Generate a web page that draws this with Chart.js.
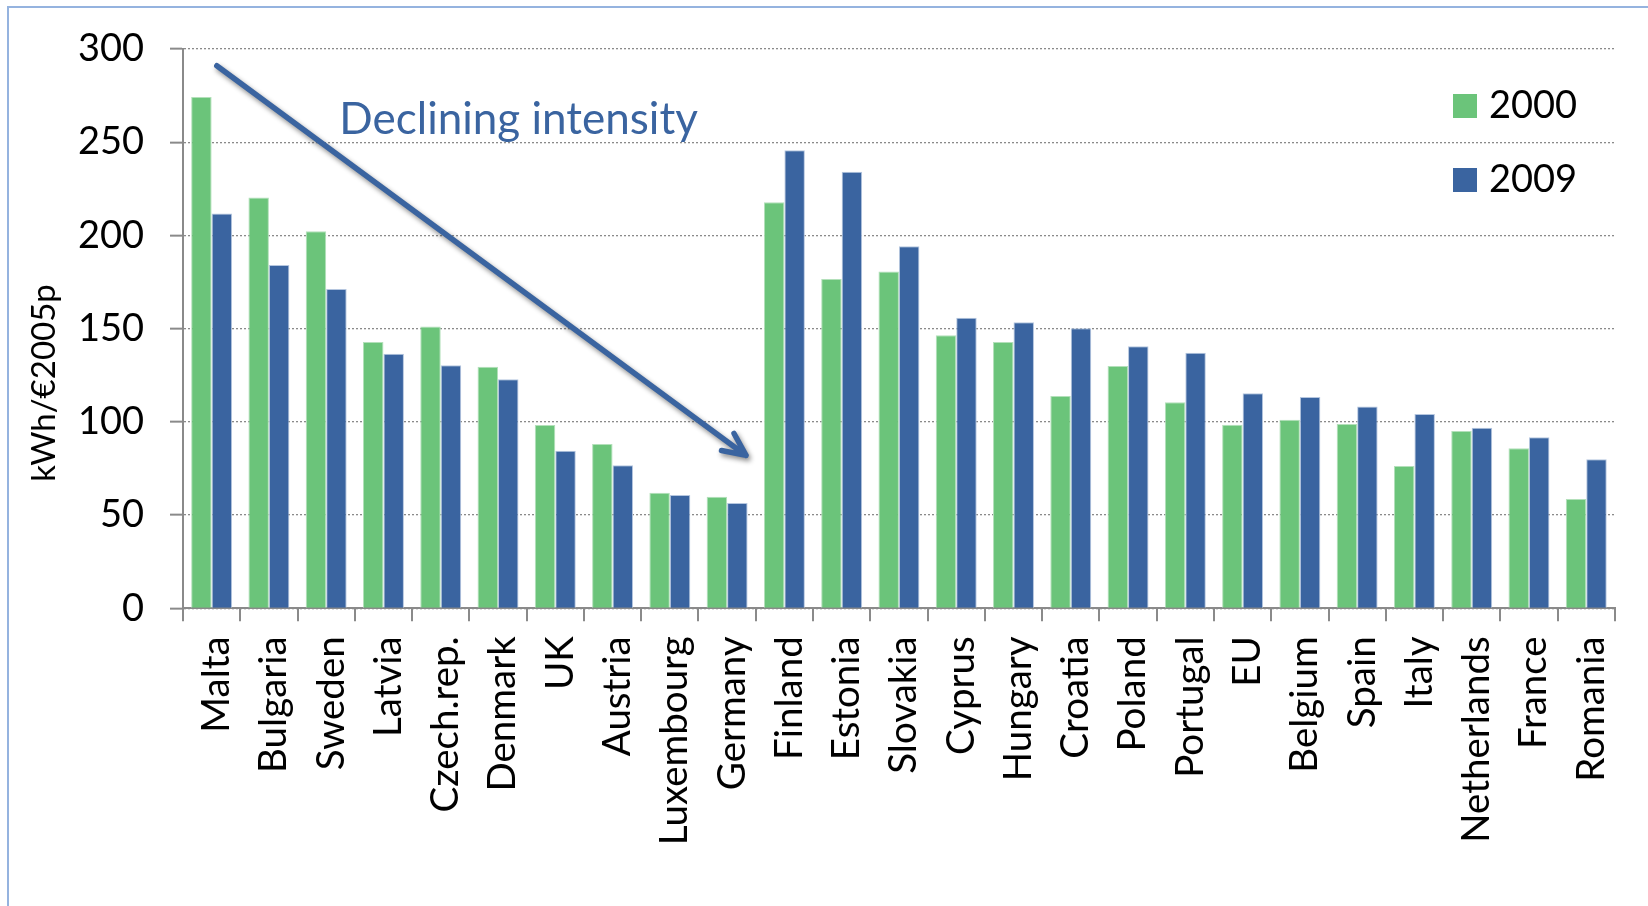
<!DOCTYPE html>
<html>
<head>
<meta charset="utf-8">
<script src="https://cdn.jsdelivr.net/npm/chart.js@4/dist/chart.umd.min.js"></script>
<style>
  html, body { margin: 0; padding: 0; background: #ffffff; }
  #wrap { width: 1648px; height: 906px; }
</style>
</head>
<body>
<div id="wrap"><canvas id="chart" width="1648" height="906"></canvas></div>
<script>
// Electricity intensity by country, kWh per €2005 (PPP)
const categories = ['Malta', 'Bulgaria', 'Sweden', 'Latvia', 'Czech.rep.', 'Denmark', 'UK', 'Austria',
  'Luxembourg', 'Germany', 'Finland', 'Estonia', 'Slovakia', 'Cyprus', 'Hungary', 'Croatia', 'Poland',
  'Portugal', 'EU', 'Belgium', 'Spain', 'Italy', 'Netherlands', 'France', 'Romania'];
const seriesNames = ['2000', '2009'];
const values2000 = [274.3, 220.4, 202.2, 142.8, 151.2, 129.5, 98.3, 88.1, 62.0, 59.9, 217.8, 176.6, 180.6,
  146.4, 142.8, 113.9, 130.0, 110.5, 98.5, 101.2, 98.9, 76.3, 95.1, 85.8, 58.6];
const values2009 = [211.7, 184.1, 171.3, 136.6, 130.4, 122.8, 84.5, 76.7, 60.8, 56.5, 245.7, 234.2, 194.2,
  155.9, 153.4, 150.2, 140.5, 137.1, 115.3, 113.3, 108.2, 104.2, 96.9, 91.7, 79.9];
const yTicks = [0, 50, 100, 150, 200, 250, 300];
const yTitle = 'kWh/€2005p';
const noteText = 'Declining intensity';
// arrow endpoints in (category index, value) space
const arrowFrom = [0.09, 291];
const arrowTo = [9.33, 82];
const noteAt = [2.23, 254.4];

const GREEN = '#6bc47a';
const BLUE = '#3a64a0';
const AXIS = '#8a8a8a';
const FONT = 'Lato';

// Frame around the figure
const framePlugin = {
  id: 'frame',
  beforeDraw(chart) {
    const ctx = chart.ctx;
    ctx.save();
    ctx.fillStyle = '#ffffff';
    ctx.fillRect(0, 0, chart.width, chart.height);
    ctx.strokeStyle = '#95b3df';
    ctx.lineWidth = 2;
    ctx.strokeRect(8, 7, chart.width + 20, chart.height + 20);
    ctx.restore();
  }
};

// Rotated y-axis title
const yTitlePlugin = {
  id: 'yTitle',
  afterDraw(chart) {
    const ctx = chart.ctx;
    ctx.save();
    ctx.translate(44, 383);
    ctx.rotate(-Math.PI / 2);
    ctx.font = `33px ${FONT}`;
    ctx.fillStyle = '#000000';
    ctx.textAlign = 'center';
    ctx.textBaseline = 'middle';
    ctx.fillText(yTitle, 0, 0);
    ctx.restore();
  }
};

// Legend in the upper right of the plot
const legendPlugin = {
  id: 'cornerLegend',
  afterDraw(chart) {
    const ctx = chart.ctx;
    ctx.save();
    ctx.font = `38px ${FONT}`;
    ctx.textAlign = 'left';
    ctx.textBaseline = 'middle';
    chart.data.datasets.forEach((ds, i) => {
      const top = 94 + i * 74;
      ctx.fillStyle = ds.backgroundColor;
      ctx.fillRect(1453, top, 24, 24);
      ctx.fillStyle = '#000000';
      ctx.fillText(ds.label, 1489, top + 12);
    });
    ctx.restore();
  }
};

// Trend arrow and its caption
const arrowPlugin = {
  id: 'trendArrow',
  afterDatasetsDraw(chart) {
    const { ctx, scales: { x, y } } = chart;
    const x0 = x.getPixelForValue(arrowFrom[0]), y0 = y.getPixelForValue(arrowFrom[1]);
    const x1 = x.getPixelForValue(arrowTo[0]), y1 = y.getPixelForValue(arrowTo[1]);
    const ang = Math.atan2(y1 - y0, x1 - x0);
    const head = 25, spread = 25 * Math.PI / 180;
    ctx.save();
    ctx.strokeStyle = BLUE;
    ctx.lineWidth = 5.5;
    ctx.lineCap = 'round';
    ctx.lineJoin = 'round';
    ctx.shadowColor = 'rgba(0,0,0,0.45)';
    ctx.shadowBlur = 5;
    ctx.shadowOffsetX = 2;
    ctx.shadowOffsetY = 3;
    ctx.beginPath();
    ctx.moveTo(x0, y0);
    ctx.lineTo(x1, y1);
    ctx.moveTo(x1 - head * Math.cos(ang - spread), y1 - head * Math.sin(ang - spread));
    ctx.lineTo(x1, y1);
    ctx.lineTo(x1 - head * Math.cos(ang + spread), y1 - head * Math.sin(ang + spread));
    ctx.stroke();
    ctx.restore();

    ctx.save();
    ctx.font = `44px ${FONT}`;
    ctx.fillStyle = BLUE;
    ctx.textAlign = 'left';
    ctx.textBaseline = 'alphabetic';
    ctx.fillText(noteText, x.getPixelForValue(noteAt[0]), y.getPixelForValue(noteAt[1]));
    ctx.restore();
  }
};

new Chart(document.getElementById('chart'), {
  type: 'bar',
  data: {
    labels: categories,
    datasets: [
      { label: seriesNames[0], data: values2000, backgroundColor: GREEN, borderColor: '#b3e0ba', borderWidth: 1 },
      { label: seriesNames[1], data: values2009, backgroundColor: BLUE, borderColor: '#b5c6df', borderWidth: 1 }
    ]
  },
  options: {
    responsive: false,
    animation: false,
    devicePixelRatio: 1,
    categoryPercentage: 0.715,
    barPercentage: 1.0,
    layout: { padding: { top: 49, right: 27.3, left: 0, bottom: 0 } },
    plugins: { legend: { display: false }, tooltip: { enabled: false } },
    scales: {
      x: {
        grid: { offset: true, drawOnChartArea: false, color: AXIS, lineWidth: 2, tickLength: 13 },
        border: { color: AXIS, width: 2 },
        ticks: {
          autoSkip: false, minRotation: 90, maxRotation: 90, padding: 15, labelOffset: 5,
          color: '#000000', font: { family: FONT, size: 38.5 }
        },
        afterFit(scale) { scale.height = 297.7; }
      },
      y: {
        min: 0, max: 300,
        afterBuildTicks(scale) { scale.ticks = yTicks.map(v => ({ value: v })); },
        grid: { color: AXIS, lineWidth: 1.3, tickLength: 13, tickColor: AXIS, tickWidth: 2, tickBorderDash: [] },
        border: { color: AXIS, width: 2, dash: [2, 2] },
        ticks: { padding: 26, color: '#000000', font: { family: FONT, size: 38 } },
        afterFit(scale) { scale.width = 183; }
      }
    }
  },
  plugins: [framePlugin, yTitlePlugin, legendPlugin, arrowPlugin]
});
</script>
</body>
</html>
